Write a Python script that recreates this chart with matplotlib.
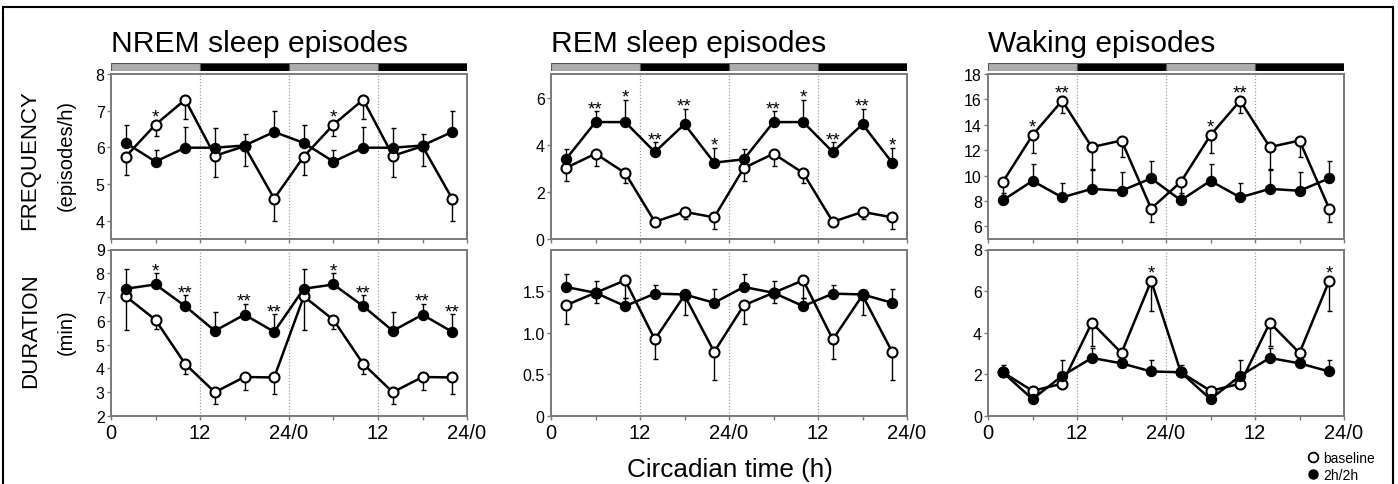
import matplotlib
matplotlib.use("Agg")
import matplotlib.pyplot as plt
from matplotlib.lines import Line2D
from matplotlib.patches import Rectangle
import numpy as np

plt.rcParams['font.family'] = ['Liberation Sans', 'DejaVu Sans']

# ---------------- data ----------------
ct_hours = [2, 6, 10, 14, 18, 22, 26, 30, 34, 38, 42, 46]   # double-plotted circadian time
phase_start = [0, 12, 24, 36]
phase_kind = ['light', 'dark', 'light', 'dark']
xtick_labels = ['0', '12', '24/0', '12', '24/0']

titles = ['NREM sleep episodes', 'REM sleep episodes', 'Waking episodes']

# NREM frequency (episodes/h)
nrem_freq_base = [5.75, 6.62, 7.30, 5.77, 6.03, 4.60, 5.75, 6.62, 7.30, 5.77, 6.03, 4.60]
nrem_freq_base_err = [0.50, 0.30, 0.53, 0.58, 0.53, 0.61, 0.50, 0.30, 0.53, 0.58, 0.53, 0.61]
nrem_freq_2h = [6.12, 5.61, 5.99, 5.99, 6.05, 6.42, 6.12, 5.61, 5.99, 5.99, 6.05, 6.42]
nrem_freq_2h_err = [0.50, 0.32, 0.56, 0.53, 0.31, 0.56, 0.50, 0.32, 0.56, 0.53, 0.31, 0.56]
nrem_freq_sig = ['', '*', '', '', '', '', '', '*', '', '', '', '']

# NREM duration (min)
nrem_dur_base = [7.03, 6.04, 4.19, 3.00, 3.64, 3.62, 7.03, 6.04, 4.19, 3.00, 3.64, 3.62]
nrem_dur_base_err = [1.42, 0.40, 0.43, 0.51, 0.53, 0.71, 1.42, 0.40, 0.43, 0.51, 0.53, 0.71]
nrem_dur_2h = [7.35, 7.53, 6.62, 5.58, 6.26, 5.54, 7.35, 7.53, 6.62, 5.58, 6.26, 5.54]
nrem_dur_2h_err = [0.84, 0.47, 0.46, 0.80, 0.46, 0.73, 0.84, 0.47, 0.46, 0.80, 0.46, 0.73]
nrem_dur_sig = ['', '*', '**', '', '**', '**', '', '*', '**', '', '**', '**']

# REM frequency
rem_freq_base = [3.01, 3.62, 2.80, 0.73, 1.15, 0.92, 3.01, 3.62, 2.80, 0.73, 1.15, 0.92]
rem_freq_base_err = [0.53, 0.52, 0.41, 0.10, 0.30, 0.50, 0.53, 0.52, 0.41, 0.10, 0.30, 0.50]
rem_freq_2h = [3.38, 4.96, 4.96, 3.69, 4.87, 3.24, 3.38, 4.96, 4.96, 3.69, 4.87, 3.24]
rem_freq_2h_err = [0.42, 0.45, 0.94, 0.42, 0.65, 0.62, 0.42, 0.45, 0.94, 0.42, 0.65, 0.62]
rem_freq_sig = ['', '**', '*', '**', '**', '*', '', '**', '*', '**', '**', '*']

# REM duration
rem_dur_base = [1.33, 1.48, 1.63, 0.92, 1.45, 0.77, 1.33, 1.48, 1.63, 0.92, 1.45, 0.77]
rem_dur_base_err = [0.23, 0.12, 0.21, 0.23, 0.24, 0.34, 0.23, 0.12, 0.21, 0.23, 0.24, 0.34]
rem_dur_2h = [1.55, 1.48, 1.32, 1.47, 1.46, 1.36, 1.55, 1.48, 1.32, 1.47, 1.46, 1.36]
rem_dur_2h_err = [0.15, 0.14, 0.10, 0.10, 0.05, 0.17, 0.15, 0.14, 0.10, 0.10, 0.05, 0.17]
rem_dur_sig = [''] * 12

# Waking frequency
wake_freq_base = [9.50, 13.18, 15.90, 12.24, 12.76, 7.40, 9.50, 13.18, 15.90, 12.24, 12.76, 7.40]
wake_freq_base_err = [1.00, 1.40, 1.01, 1.80, 1.29, 1.04, 1.00, 1.40, 1.01, 1.80, 1.29, 1.04]
wake_freq_2h = [8.05, 9.58, 8.28, 8.95, 8.80, 9.78, 8.05, 9.58, 8.28, 8.95, 8.80, 9.78]
wake_freq_2h_err = [0.60, 1.29, 1.17, 1.53, 1.50, 1.40, 0.60, 1.29, 1.17, 1.53, 1.50, 1.40]
wake_freq_sig = ['', '*', '**', '', '', '', '', '*', '**', '', '', '']

# Waking duration
wake_dur_base = [2.10, 1.21, 1.55, 4.48, 3.03, 6.49, 2.10, 1.21, 1.55, 4.48, 3.03, 6.49]
wake_dur_base_err = [0.20, 0.10, 0.20, 1.10, 0.20, 1.44, 0.20, 0.10, 0.20, 1.10, 0.20, 1.44]
wake_dur_2h = [2.10, 0.81, 1.93, 2.79, 2.53, 2.14, 2.10, 0.81, 1.93, 2.79, 2.53, 2.14]
wake_dur_2h_err = [0.37, 0.10, 0.75, 0.50, 0.10, 0.55, 0.37, 0.10, 0.75, 0.50, 0.10, 0.55]
wake_dur_sig = ['', '', '', '', '', '*', '', '', '', '', '', '*']

panels = [
    # (col, row, base, base_err, tx, tx_err, sig, ylim, yticks, yticklabels)
    (0, 0, nrem_freq_base, nrem_freq_base_err, nrem_freq_2h, nrem_freq_2h_err, nrem_freq_sig,
     (3.5, 8), [4, 5, 6, 7, 8], ['4', '5', '6', '7', '8']),
    (0, 1, nrem_dur_base, nrem_dur_base_err, nrem_dur_2h, nrem_dur_2h_err, nrem_dur_sig,
     (2, 9), [2, 3, 4, 5, 6, 7, 8, 9], ['2', '3', '4', '5', '6', '7', '8', '9']),
    (1, 0, rem_freq_base, rem_freq_base_err, rem_freq_2h, rem_freq_2h_err, rem_freq_sig,
     (0, 7), [0, 2, 4, 6], ['0', '2', '4', '6']),
    (1, 1, rem_dur_base, rem_dur_base_err, rem_dur_2h, rem_dur_2h_err, rem_dur_sig,
     (0, 2.0), [0, 0.5, 1.0, 1.5], ['0', '0.5', '1.0', '1.5']),
    (2, 0, wake_freq_base, wake_freq_base_err, wake_freq_2h, wake_freq_2h_err, wake_freq_sig,
     (5, 18), [6, 8, 10, 12, 14, 16, 18], ['6', '8', '10', '12', '14', '16', '18']),
    (2, 1, wake_dur_base, wake_dur_base_err, wake_dur_2h, wake_dur_2h_err, wake_dur_sig,
     (0, 8), [0, 2, 4, 6, 8], ['0', '2', '4', '6', '8']),
]

# ---------------- layout ----------------
W, H = 1398, 485
fig = plt.figure(figsize=(W / 100, H / 100), dpi=100)

col_left_px = [111, 551, 988]
ax_w_px = 356
row_top_px = [75, 250.5]
row_bot_px = [240, 417]

SPINE = '#7a7a7a'

def fx(px):
    return px / W

def fy(py):
    return 1 - py / H

axes = {}
for col in range(3):
    for row in range(2):
        l = fx(col_left_px[col])
        b = fy(row_bot_px[row])
        h = (row_bot_px[row] - row_top_px[row]) / H
        axes[(col, row)] = fig.add_axes([l, b, fx(ax_w_px), h])

for (col, row, base, base_err, tx, tx_err, sig, ylim, yticks, yticklabels) in panels:
    ax = axes[(col, row)]
    x = np.array(ct_hours, dtype=float)
    base = np.array(base); base_err = np.array(base_err)
    tx = np.array(tx); tx_err = np.array(tx_err)

    for xv in [12, 24, 36]:
        ax.axvline(xv, color='#a0a0a0', ls=(0, (1, 1.5)), lw=0.9, zorder=0)

    # baseline: error bars downward; 2h/2h: error bars upward
    ax.errorbar(x, base, yerr=[base_err, np.zeros_like(base_err)], fmt='none',
                ecolor='black', elinewidth=1.0, capsize=1.8, capthick=1.0, zorder=2)
    ax.errorbar(x, tx, yerr=[np.zeros_like(tx_err), tx_err], fmt='none',
                ecolor='black', elinewidth=1.0, capsize=1.8, capthick=1.0, zorder=2)
    ax.plot(x, base, '-', color='black', lw=1.8, marker='o', ms=7.2,
            mfc='white', mec='black', mew=1.5, zorder=3)
    ax.plot(x, tx, '-', color='black', lw=1.8, marker='o', ms=7.2,
            mfc='black', mec='black', mew=1.0, zorder=4)

    for xi, b_, t_, te, s in zip(x, base, tx, tx_err, sig):
        if not s:
            continue
        top = max(b_, t_ + te)
        off = 2.4 if b_ >= t_ + te else -1.4
        ax.annotate(s, xy=(xi, top), xytext=(0, off), textcoords='offset points',
                    ha='center', va='baseline', fontsize=13.5, color='black')

    ax.set_xlim(0, 48)
    ax.set_ylim(*ylim)
    ax.set_yticks(yticks)
    ax.set_yticklabels(yticklabels, fontsize=11.5)
    ax.set_xticks(range(0, 49, 6))
    if row == 1:
        labs = []
        k = 0
        for t in range(0, 49, 6):
            if t % 12 == 0:
                labs.append(xtick_labels[k]); k += 1
            else:
                labs.append('')
        ax.set_xticklabels(labs, fontsize=14.5)
    else:
        ax.set_xticklabels([])
    for sp in ax.spines.values():
        sp.set_color(SPINE)
        sp.set_linewidth(1.4)
    ax.tick_params(axis='both', direction='out', length=3, width=1.0, color=SPINE)
    ax.tick_params(axis='y', pad=1.5)
    ax.tick_params(axis='x', pad=2.0)

# light/dark bars above top panels
for col in range(3):
    bax = fig.add_axes([fx(col_left_px[col]), fy(72), fx(ax_w_px), 8 / H])
    for st, kind in zip(phase_start, phase_kind):
        bax.add_patch(Rectangle((st, 0), 12, 1,
                                facecolor='#adadad' if kind == 'light' else 'black',
                                edgecolor='#555555', lw=0.8))
    bax.set_xlim(0, 48)
    bax.set_ylim(0, 1)
    bax.axis('off')

# titles
for col in range(3):
    fig.text(fx(col_left_px[col]), fy(52), titles[col], fontsize=21.6,
             ha='left', va='baseline')

# row labels
fig.text(fx(30), fy(160), 'FREQUENCY', rotation=90, fontsize=16, ha='center', va='center')
fig.text(fx(66), fy(156), '(episodes/h)', rotation=90, fontsize=14.5, ha='center', va='center')
fig.text(fx(31), fy(331), 'DURATION', rotation=90, fontsize=16, ha='center', va='center')
fig.text(fx(66), fy(332), '(min)', rotation=90, fontsize=14.5, ha='center', va='center')

# x-axis label
fig.text(fx(730), fy(477), 'Circadian time (h)', fontsize=18.8, ha='center', va='baseline')

# legend
handles = [Line2D([], [], ls='none', marker='o', ms=7, mfc='white', mec='black', mew=1.3),
           Line2D([], [], ls='none', marker='o', ms=6.5, mfc='black', mec='black')]
fig.legend(handles, ['baseline', '2h/2h'], loc='center left',
           bbox_to_anchor=(fx(1307), fy(467.5)), frameon=False, fontsize=10,
           handlelength=0.8, handletextpad=0.4, labelspacing=0.25, borderpad=0,
           borderaxespad=0)

# outer frame
fig.add_artist(Rectangle((fx(3), -0.02), fx(1390), fy(8) + 0.02, transform=fig.transFigure,
                         fill=False, edgecolor='black', lw=1.5))

fig.savefig('out.png', dpi=100)
